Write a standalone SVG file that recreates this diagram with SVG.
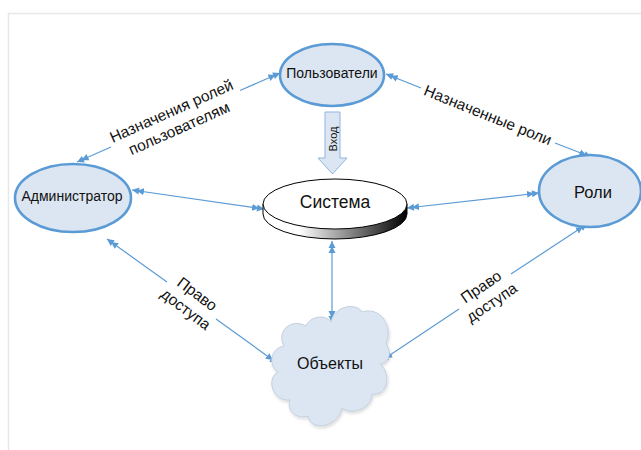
<svg xmlns="http://www.w3.org/2000/svg" width="641" height="450" viewBox="0 0 641 450">
  <style>
    .node { fill: #dce6f2; stroke: #5b9bd5; stroke-width: 2.6; }
    .lbl { font-family: "Liberation Sans", Arial, sans-serif; fill: #111; text-anchor: middle; dominant-baseline: central; }
    .conn { stroke: #5b9bd5; stroke-width: 1.2; fill: none; }
  </style>
  <defs>
    <marker id="dbl" viewBox="-12 -4 12 8" refX="0" refY="0" markerWidth="12" markerHeight="8" markerUnits="userSpaceOnUse" orient="auto-start-reverse">
      <path d="M0,0 L-7,-3.5 L-7,3.5 Z M-5,0 L-12,-3.5 L-12,3.5 Z" fill="#5b9bd5"/>
    </marker>
    <linearGradient id="side" x1="0" y1="0" x2="1" y2="0">
      <stop offset="0" stop-color="#ffffff"/>
      <stop offset="0.25" stop-color="#ffffff"/>
      <stop offset="1" stop-color="#000000"/>
    </linearGradient>
    <filter id="soft" x="-10%" y="-10%" width="130%" height="130%">
      <feDropShadow dx="1" dy="2" stdDeviation="1.5" flood-color="#000" flood-opacity="0.14"/>
    </filter>
  </defs>

  <!-- page frame -->
  <rect x="0" y="0" width="641" height="450" fill="#ffffff"/>
  <path d="M8.5,450 V13.5 H641" fill="none" stroke="#e6e8ea" stroke-width="1.5"/>

  <!-- connectors -->
  <g id="connectors" class="conn">
    <line x1="111" y1="147" x2="77" y2="162" marker-end="url(#dbl)"/>
    <line x1="240" y1="90.5" x2="280" y2="73" marker-end="url(#dbl)"/>

    <line x1="421" y1="88" x2="386" y2="74" marker-end="url(#dbl)"/>
    <line x1="555" y1="143" x2="591" y2="157" marker-end="url(#dbl)"/>

    <line x1="132" y1="190" x2="264" y2="209" marker-start="url(#dbl)" marker-end="url(#dbl)"/>
    <line x1="407" y1="208" x2="539" y2="193" marker-start="url(#dbl)" marker-end="url(#dbl)"/>
    <line x1="332" y1="241" x2="332" y2="323" marker-start="url(#dbl)" marker-end="url(#dbl)"/>

    <line x1="167" y1="282" x2="107" y2="239" marker-end="url(#dbl)"/>
    <line x1="216" y1="319" x2="277" y2="363" marker-end="url(#dbl)"/>

    <line x1="511" y1="274" x2="587" y2="224" marker-end="url(#dbl)"/>
    <line x1="459" y1="309" x2="381" y2="361" marker-end="url(#dbl)"/>
  </g>

  <!-- connector labels -->
  <g id="edge-labels" class="lbl" font-size="15.5">
    <text transform="translate(175,119) rotate(-24)"><tspan x="0" y="-9.5">Назначения ролей</tspan><tspan x="0" y="9.5">пользователям</tspan></text>
    <text transform="translate(488,115) rotate(22)" x="0" y="0">Назначенные роли</text>
    <text transform="translate(192,301) rotate(37)"><tspan x="0" y="-9.5">Право</tspan><tspan x="0" y="9.5">доступа</tspan></text>
    <text transform="translate(486,294) rotate(-34)"><tspan x="0" y="-9.5">Право</tspan><tspan x="0" y="9.5">доступа</tspan></text>
  </g>

  <!-- Users -->
  <g id="users">
    <ellipse class="node" cx="332" cy="75" rx="52" ry="31"/>
    <text class="lbl" x="332" y="73" font-size="14">Пользователи</text>
  </g>

  <!-- login block arrow -->
  <g id="login">
    <path d="M325,112 H340 V158 H347 L332.5,174 L318,158 H325 Z" fill="#dce6f2" stroke="#8fb4e3" stroke-width="1"/>
    <text class="lbl" transform="translate(333,139) rotate(-90)" font-size="11">Вход</text>
  </g>

  <!-- Administrator -->
  <g id="admin">
    <ellipse class="node" cx="73" cy="198" rx="58" ry="34"/>
    <text class="lbl" x="72" y="196" font-size="14">Администратор</text>
  </g>

  <!-- Roles -->
  <g id="roles">
    <ellipse class="node" cx="590" cy="191" rx="51" ry="36"/>
    <text class="lbl" x="593" y="192" font-size="16.5">Роли</text>
  </g>

  <!-- System disk -->
  <g id="system">
    <path d="M263,204 V214 A72,25 0 0 0 407,214 V204 Z" fill="url(#side)" stroke="#000" stroke-width="1"/>
    <ellipse cx="335" cy="204" rx="72" ry="25" fill="#ffffff" stroke="#000" stroke-width="1"/>
    <text class="lbl" x="335" y="202" font-size="17.5">Система</text>
  </g>

  <!-- Objects cloud -->
  <g id="objects">
    <path filter="url(#soft)" fill="#dce6f2" stroke="#c3cfdc" stroke-width="1"
      d="M284,346 C276,330 292,318 306,326 C310,316 326,314 331,322 C334,306 356,302 362,312 C380,306 394,326 386,344 C392,352 390,362 380,364 C392,374 388,396 372,394 C372,408 352,416 342,408 C338,428 310,432 308,416 C296,420 286,410 290,400 C272,402 266,378 278,372 C268,366 270,348 284,346 Z"/>
    <text class="lbl" x="330" y="363" font-size="16">Объекты</text>
  </g>
</svg>
